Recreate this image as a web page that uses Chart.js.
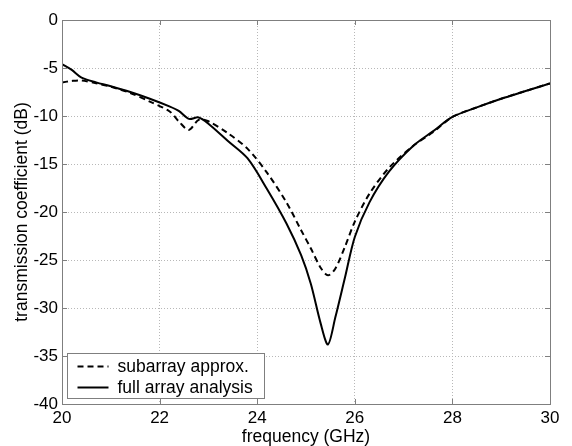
<!DOCTYPE html>
<html>
<head>
<meta charset="utf-8">
<script src="https://cdn.jsdelivr.net/npm/chart.js@4.4.1/dist/chart.umd.min.js"></script>
<style>
html,body{margin:0;padding:0;background:#fff;}
#wrap{width:572px;height:446px;}
</style>
</head>
<body>
<div id="wrap"><canvas id="c" width="572" height="446"></canvas></div>
<script>
const freq = [20, 20.2, 20.4, 20.7, 21, 21.4, 21.8, 22.2, 22.4, 22.6, 22.8, 23.0, 23.4, 23.8, 24.2, 24.6, 24.9, 25.1, 25.3, 25.45, 25.6, 25.8, 26.0, 26.3, 26.7, 27.2, 27.6, 28.0, 28.5, 29.0, 29.5, 30];
const subarray = [-6.5, -6.35, -6.3, -6.6, -6.95, -7.6, -8.5, -9.5, -10.6, -11.45, -10.4, -10.55, -11.8, -13.4, -15.9, -19.0, -21.9, -23.8, -25.8, -26.6, -25.9, -23.6, -21.0, -18.1, -15.4, -13.1, -11.7, -10.1, -9.1, -8.2, -7.4, -6.6];
const full = [-4.6, -5.2, -6.0, -6.5, -6.9, -7.5, -8.2, -9.0, -9.5, -10.3, -10.15, -10.8, -12.6, -14.4, -17.6, -21.2, -24.5, -27.5, -31.6, -33.8, -31.0, -26.8, -22.6, -19.0, -15.8, -13.1, -11.6, -10.1, -9.1, -8.2, -7.4, -6.6];
const seriesNames = ['subarray approx.', 'full array analysis'];
const xTicks = [20, 22, 24, 26, 28, 30];
const yTicks = [-40, -35, -30, -25, -20, -15, -10, -5, 0];

const FONT = 'Liberation Sans, Arial, sans-serif';
const toPts = (ys) => ys.map((y, i) => ({x: freq[i], y: y}));

const framePlugin = {
  id: 'frame',
  afterDatasetsDraw(chart) {
    const {ctx, chartArea: a, scales} = chart;
    ctx.save();
    ctx.strokeStyle = '#7f7f7f';
    ctx.lineWidth = 1;
    ctx.setLineDash([]);
    ctx.strokeRect(Math.round(a.left) + 0.5, Math.round(a.top) + 0.5, Math.round(a.right - a.left), Math.round(a.bottom - a.top));
    const tl = 5;
    ctx.beginPath();
    xTicks.forEach(v => {
      const x = Math.round(scales.x.getPixelForValue(v)) + 0.5;
      ctx.moveTo(x, a.bottom); ctx.lineTo(x, a.bottom - tl);
      ctx.moveTo(x, a.top); ctx.lineTo(x, a.top + tl);
    });
    yTicks.forEach(v => {
      const y = Math.round(scales.y.getPixelForValue(v)) + 0.5;
      ctx.moveTo(a.left, y); ctx.lineTo(a.left + tl, y);
      ctx.moveTo(a.right, y); ctx.lineTo(a.right - tl, y);
    });
    ctx.stroke();

    // legend box (inside plot, lower-left)
    const bx = Math.round(a.left) + 5.5, bw = 197, bh = 45;
    const by = Math.round(a.bottom) - 50.5;
    ctx.fillStyle = '#ffffff';
    ctx.fillRect(bx, by, bw, bh);
    ctx.strokeStyle = '#7f7f7f';
    ctx.strokeRect(bx, by, bw, bh);
    ctx.font = '17.5px ' + FONT;
    ctx.fillStyle = '#000';
    ctx.textBaseline = 'middle';
    const dashes = [[6, 4], []];
    chart.data.datasets.forEach((ds, i) => {
      const y = by + 13 + i * 21;
      ctx.strokeStyle = '#000';
      ctx.lineWidth = 2;
      ctx.setLineDash(dashes[i]);
      ctx.beginPath();
      ctx.moveTo(bx + 10, y); ctx.lineTo(bx + 41, y);
      ctx.stroke();
      ctx.setLineDash([]);
      ctx.fillText(ds.label, bx + 50, y + 1);
    });
    ctx.restore();
  }
};

new Chart(document.getElementById('c'), {
  type: 'line',
  data: {
    datasets: [
      {label: seriesNames[0], data: toPts(subarray), borderColor: '#000', borderWidth: 2, borderDash: [6, 4], pointRadius: 0, tension: 0.3, fill: false},
      {label: seriesNames[1], data: toPts(full), borderColor: '#000', borderWidth: 2, pointRadius: 0, tension: 0.3, fill: false}
    ]
  },
  plugins: [framePlugin],
  options: {
    responsive: false,
    animation: false,
    layout: {padding: {top: 20, right: 22, left: 0, bottom: 0}},
    plugins: {legend: {display: false}, tooltip: {enabled: false}},
    scales: {
      x: {
        type: 'linear', min: 20, max: 30,
        afterBuildTicks: (s) => { s.ticks = xTicks.map(v => ({value: v})); },
        afterFit: (s) => { s.height = 42; },
        grid: {color: '#b8b8b8', drawTicks: false, lineWidth: 1},
        border: {display: false, dash: [1, 2]},
        ticks: {color: '#000', font: {family: FONT, size: 17}, padding: 4, maxRotation: 0},
        title: {display: true, text: 'frequency (GHz)', color: '#000', font: {family: FONT, size: 17.5, lineHeight: 1}, padding: {top: 0, bottom: 0}}
      },
      y: {
        type: 'linear', min: -40, max: 0,
        afterBuildTicks: (s) => { s.ticks = yTicks.map(v => ({value: v})); },
        afterFit: (s) => { s.width = 62; },
        grid: {color: '#b8b8b8', drawTicks: false, lineWidth: 1},
        border: {display: false, dash: [1, 2]},
        ticks: {color: '#000', font: {family: FONT, size: 17}, padding: 4},
        title: {display: true, text: 'transmission coefficient (dB)', color: '#000', font: {family: FONT, size: 17.5, lineHeight: 1.2}, padding: {top: 12, bottom: 0}}
      }
    }
  }
});
</script>
</body>
</html>
